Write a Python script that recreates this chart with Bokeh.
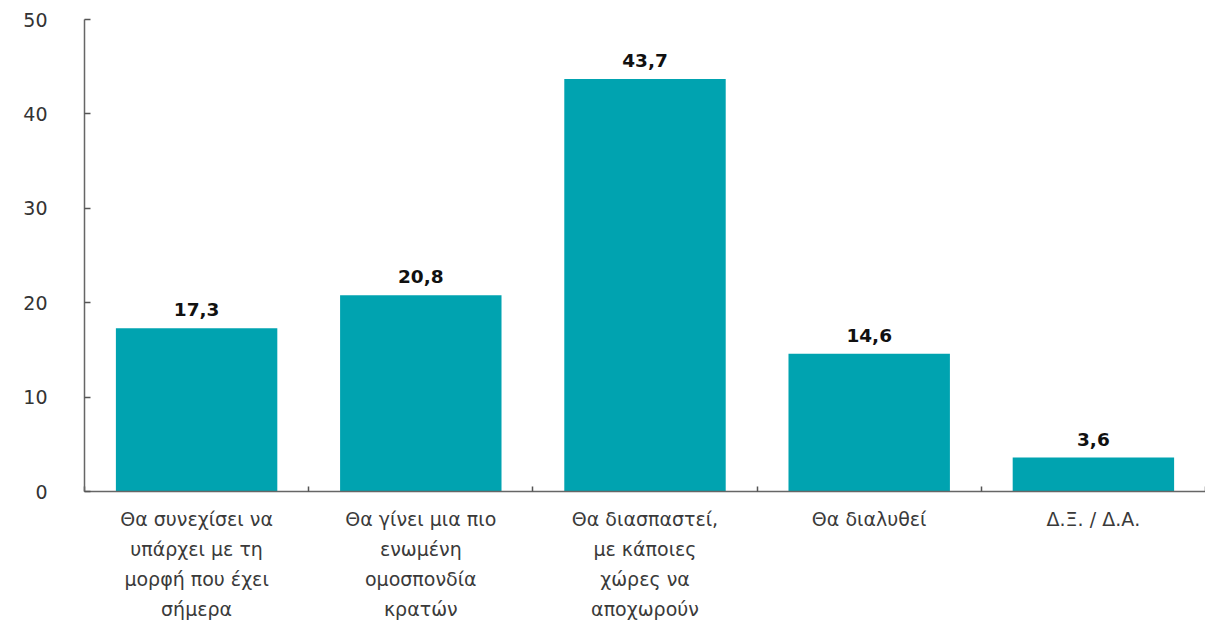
from bokeh.plotting import figure
from bokeh.models import Range1d, FixedTicker, ColumnDataSource, LabelSet, LinearAxis
from bokeh.core.properties import value
from bokeh.embed import file_html
from bokeh.resources import INLINE

categories = [
    "Θα συνεχίσει να\nυπάρχει με τη\nμορφή που έχει\nσήμερα",
    "Θα γίνει μια πιο\nενωμένη\nομοσπονδία\nκρατών",
    "Θα διασπαστεί,\nμε κάποιες\nχώρες να\nαποχωρούν",
    "Θα διαλυθεί",
    "Δ.Ξ. / Δ.Α.",
]
values = [17.3, 20.8, 43.7, 14.6, 3.6]
value_labels = ["17,3", "20,8", "43,7", "14,6", "3,6"]
y_ticks = [0, 10, 20, 30, 40, 50]

FONT = "DejaVu Sans"
positions = [i + 0.5 for i in range(len(categories))]

src = ColumnDataSource(dict(x=positions, top=values, lab=value_labels))

p = figure(width=1205, height=623, output_backend="svg", toolbar_location=None,
           x_range=Range1d(0, len(categories)), y_range=Range1d(0, 50),
           min_border_left=84, min_border_top=19, min_border_right=0, min_border_bottom=132)
p.outline_line_color = None
p.grid.visible = False
p.background_fill_color = "white"

p.vbar(x="x", top="top", width=0.72, source=src, color="#00A3B0", line_color=None)

labels = LabelSet(x="x", y="top", text="lab", source=src, y_offset=12,
                  text_align="center", text_baseline="alphabetic",
                  text_font=value(FONT), text_font_style="bold", text_font_size="18.5px",
                  text_color="#111111")
p.add_layout(labels)

split = [c.split("\n") for c in categories]
n_lines = max(len(s) for s in split)


def style_labels(ax):
    ax.major_label_text_font = FONT
    ax.major_label_text_font_size = "19px"
    ax.major_label_text_color = "#3a3a3a"
    ax.major_label_orientation = "horizontal"


# x axis: first label line, tick marks between categories
xa = p.xaxis[0]
xa.ticker = FixedTicker(ticks=positions, minor_ticks=list(range(len(categories) + 1)))
xa.major_label_overrides = {pos: s[0] for pos, s in zip(positions, split)}
style_labels(xa)
xa.major_label_standoff = 16
xa.major_tick_in = 0
xa.major_tick_out = 0
xa.minor_tick_in = 5
xa.minor_tick_out = 0
xa.minor_tick_line_color = "#555555"
xa.minor_tick_line_width = 1.5
xa.axis_line_color = "#666666"
xa.axis_line_width = 1.5

# further label lines as stacked axes
for i in range(1, n_lines):
    ax = LinearAxis(ticker=FixedTicker(ticks=positions, minor_ticks=[]))
    ax.major_label_overrides = {pos: (s[i] if i < len(s) else " ") for pos, s in zip(positions, split)}
    style_labels(ax)
    ax.major_label_standoff = 5
    ax.axis_line_color = None
    ax.major_tick_line_color = None
    ax.minor_tick_line_color = None
    ax.major_tick_in = 0
    ax.major_tick_out = 0
    p.add_layout(ax, "below")

# y axis
ya = p.yaxis[0]
ya.ticker = FixedTicker(ticks=y_ticks)
ya.minor_tick_line_color = None
ya.major_tick_in = 6
ya.major_tick_out = 0
ya.major_tick_line_color = "#555555"
ya.major_tick_line_width = 1.5
ya.axis_line_color = "#666666"
ya.axis_line_width = 1.5
ya.major_label_text_font = FONT
ya.major_label_text_font_size = "19px"
ya.major_label_text_color = "#333333"
ya.major_label_standoff = 37

open("out.html", "w").write(file_html(p, INLINE))
